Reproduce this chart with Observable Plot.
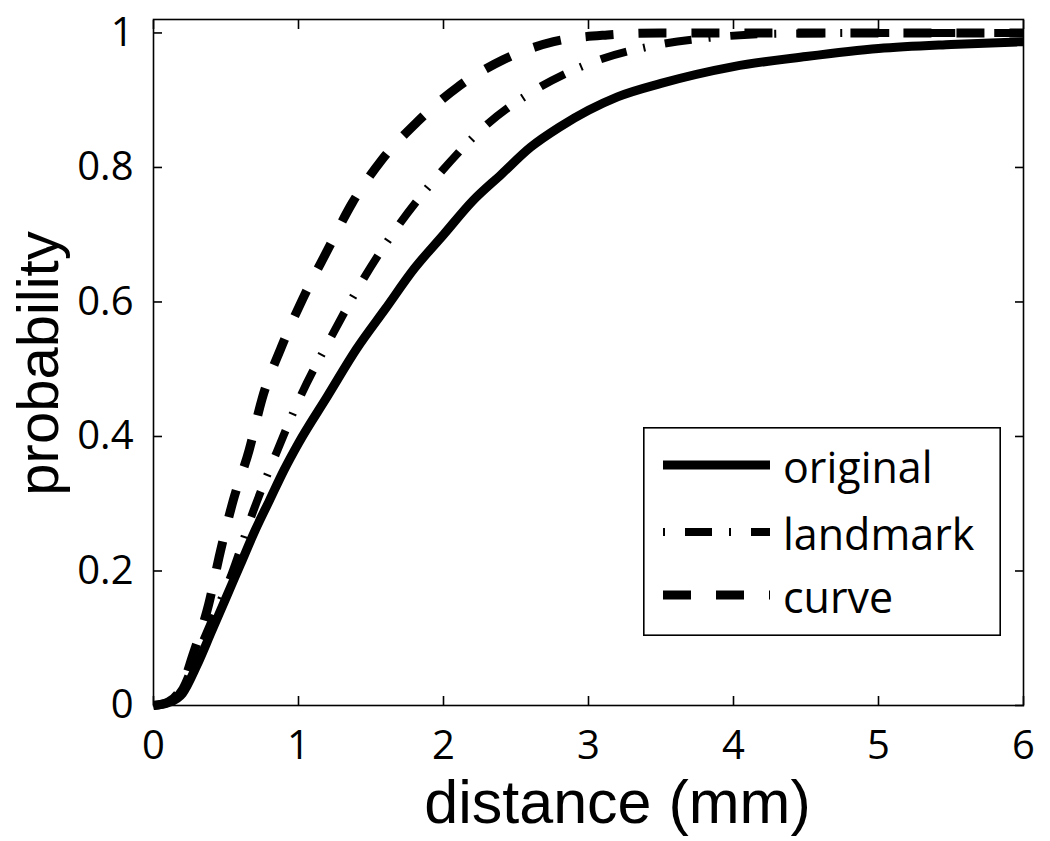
<!DOCTYPE html>
<html>
<head>
<meta charset="utf-8">
<script src="https://cdn.jsdelivr.net/npm/d3@7"></script>
<script src="https://cdn.jsdelivr.net/npm/@observablehq/plot@0.6"></script>
<style>
  html, body { margin: 0; padding: 0; background: white; }
  #wrap { position: relative; width: 1050px; height: 841px; }
</style>
</head>
<body>
<div id="wrap"></div>
<script>
// ---- data ----
const origX = [0, 0.1, 0.2, 0.3, 0.4, 0.5, 0.6, 0.7, 0.8, 0.9, 1.0, 1.2, 1.4, 1.6, 1.8, 2.0, 2.2, 2.4, 2.6, 2.8, 3.0, 3.2, 3.5, 4.0, 4.5, 5.0, 5.5, 6.0];
const origY = [0, 0.004, 0.018, 0.06, 0.11, 0.16, 0.21, 0.26, 0.305, 0.35, 0.39, 0.46, 0.53, 0.59, 0.65, 0.70, 0.75, 0.79, 0.83, 0.86, 0.885, 0.905, 0.925, 0.95, 0.965, 0.977, 0.983, 0.987];

const landX = [0, 0.1, 0.2, 0.28, 0.4, 0.54, 0.69, 0.85, 1.01, 1.23, 1.45, 1.69, 1.97, 2.28, 2.63, 3.01, 3.47, 3.89, 4.3, 5.0, 6.0];
const landY = [0, 0.005, 0.025, 0.065, 0.125, 0.196, 0.29, 0.377, 0.458, 0.55, 0.635, 0.714, 0.79, 0.86, 0.915, 0.955, 0.982, 0.994, 0.999, 1.0, 1.0];

const curveX = [0, 0.1, 0.2, 0.27, 0.38, 0.46, 0.55, 0.66, 0.75, 0.88, 1.03, 1.2, 1.37, 1.57, 1.82, 2.1, 2.41, 2.76, 3.13, 3.5, 4.0, 5.0, 6.0];
const curveY = [0, 0.005, 0.03, 0.074, 0.15, 0.228, 0.305, 0.38, 0.457, 0.532, 0.605, 0.677, 0.747, 0.81, 0.868, 0.92, 0.96, 0.987, 0.997, 1.0, 1.0, 1.0, 1.0];

const seriesNames = ["original", "landmark", "curve"];
const xTicks = [0, 1, 2, 3, 4, 5, 6];
const xTickLabels = ["0", "1", "2", "3", "4", "5", "6"];
const yTicks = [0, 0.2, 0.4, 0.6, 0.8, 1];
const yTickLabels = ["0", "0.2", "0.4", "0.6", "0.8", "1"];
const xLabel = "distance (mm)";
const yLabel = "probability";

// ---- styles ----
const dashes = { original: null, landmark: "2,20,27,17", curve: "28,25" };
const widths = { original: 9, landmark: 8, curve: 9 };

const toRows = (xs, ys) => xs.map((x, i) => ({x, y: ys[i]}));
const rows = {
  original: toRows(origX, origY),
  landmark: toRows(landX, landY),
  curve: toRows(curveX, curveY)
};

const lineMark = (name) => Plot.line(rows[name], {
  x: "x", y: "y", stroke: "black", strokeWidth: widths[name],
  strokeDasharray: dashes[name], strokeLinecap: "butt", strokeLinejoin: "round",
  curve: "monotone-x"
});

const chart = Plot.plot({
  width: 1050, height: 841,
  marginLeft: 153, marginRight: 27, marginTop: 19, marginBottom: 136,
  x: {domain: [0, 6]},
  y: {domain: [0, 1.02]},
  style: {fontFamily: "'Open Sans', sans-serif", background: "white", color: "black", overflow: "visible"},
  marks: [
    lineMark("original"),
    lineMark("landmark"),
    lineMark("curve"),
    Plot.frame({stroke: "black", strokeWidth: 1.6}),
    Plot.axisX({ticks: xTicks, anchor: "bottom", tickSize: -9, tickPadding: 34, fontSize: 40, label: null,
      tickFormat: d => xTickLabels[xTicks.indexOf(d)], strokeWidth: 1.6}),
    Plot.axisX({ticks: xTicks, anchor: "top", tickSize: -9, text: null, label: null, strokeWidth: 1.6}),
    Plot.axisY({ticks: yTicks, anchor: "left", tickSize: -9, tickPadding: 29, fontSize: 40, label: null,
      tickFormat: d => yTickLabels[yTicks.indexOf(d)], strokeWidth: 1.6}),
    Plot.axisY({ticks: yTicks, anchor: "right", tickSize: -9, text: null, label: null, strokeWidth: 1.6}),
    Plot.text([xLabel], {text: d => d, frameAnchor: "bottom", textAnchor: "middle", lineAnchor: "middle",
      dx: 29, dy: 98, fontSize: 61, fontFamily: "'Liberation Sans', Arial, sans-serif"}),
    Plot.text([yLabel], {text: d => d, frameAnchor: "left", textAnchor: "middle", lineAnchor: "middle",
      rotate: -90, dx: -114, dy: 1, fontSize: 58, fontFamily: "'Liberation Sans', Arial, sans-serif"})
  ]
});

const wrap = document.getElementById("wrap");
wrap.appendChild(chart);

// ---- legend (inside the axes, as in the reference) ----
const lg = d3.create("svg")
  .attr("id", "legend")
  .attr("width", 358).attr("height", 209)
  .style("position", "absolute").style("left", "643px").style("top", "427px");
lg.append("rect").attr("x", 0.8).attr("y", 0.8).attr("width", 356.4).attr("height", 207.4)
  .attr("fill", "white").attr("stroke", "black").attr("stroke-width", 1.6);
const rowY = [38, 105, 168];
seriesNames.forEach((name, i) => {
  lg.append("line").attr("x1", 20).attr("x2", 127).attr("y1", rowY[i]).attr("y2", rowY[i])
    .attr("stroke", "black").attr("stroke-width", widths[name])
    .attr("stroke-dasharray", dashes[name]).attr("stroke-linecap", "butt");
  lg.append("text").attr("x", 140).attr("y", rowY[i] + 18)
    .attr("font-family", "'Open Sans', sans-serif").attr("font-size", 43)
    .attr("fill", "black").text(name);
});
wrap.appendChild(lg.node());
</script>
</body>
</html>
